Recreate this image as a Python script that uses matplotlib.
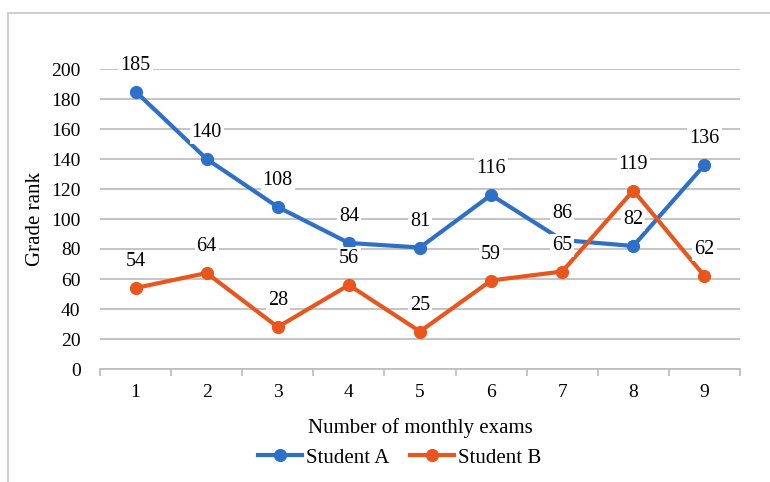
import matplotlib.pyplot as plt
from matplotlib.patches import Rectangle
import numpy as np

plt.rcParams['font.family'] = ['Liberation Serif', 'DejaVu Serif']

exams = ['1', '2', '3', '4', '5', '6', '7', '8', '9']
student_a = [185, 140, 108, 84, 81, 116, 86, 82, 136]
student_b = [54, 64, 28, 56, 25, 59, 65, 119, 62]
y_ticks = [0, 20, 40, 60, 80, 100, 120, 140, 160, 180, 200]

blue = '#2E6FC7'
orange = '#E8561E'
grid_col = '#BFBFBF'

fig = plt.figure(figsize=(7.7, 4.82), dpi=100)
ax = fig.add_axes([100/770, 1-369/482, 640/770, 300/482])

# outer frame of the chart area
fig.patches.append(Rectangle((8/770, -0.1), 1.1, 1-13/482+0.1, transform=fig.transFigure,
                             fill=False, edgecolor='#D0D0D0', lw=1.5))

x = np.arange(len(exams))
ax.plot(x, student_a, color=blue, lw=3, marker='o', ms=8.5, label='Student A', zorder=3)
ax.plot(x, student_b, color=orange, lw=3, marker='o', ms=8.5, label='Student B', zorder=3)

for series in (student_a, student_b):
    for xi, v in zip(x, series):
        ax.annotate(str(v), (xi, v), xytext=(0, 19), textcoords='offset points',
                    ha='center', va='center', fontsize=14.5, zorder=5,
                    bbox=dict(boxstyle='square,pad=0.1', fc='white', ec='none'))

ax.set_xlim(-0.5, len(exams) - 0.5)
ax.set_ylim(0, 200)
ax.set_yticks(y_ticks)
ax.tick_params(axis='y', length=0, labelsize=14, pad=14)
ax.set_xticks(x)
ax.set_xticklabels(exams)
ax.set_xticks(np.arange(len(exams) + 1) - 0.5, minor=True)
ax.tick_params(axis='x', which='major', length=0, labelsize=14, pad=11)
ax.tick_params(axis='x', which='minor', length=5, color=grid_col, width=1.3)

ax.grid(axis='y', color=grid_col, lw=1.3)
ax.set_axisbelow(True)
for s in ('top', 'right', 'left'):
    ax.spines[s].set_visible(False)
ax.spines['bottom'].set_color(grid_col)
ax.spines['bottom'].set_linewidth(1.3)

ax.set_xlabel('Number of monthly exams', fontsize=15, labelpad=12)
ax.set_ylabel('Grade rank', fontsize=15, labelpad=4)

fig.legend(loc='center', bbox_to_anchor=(400/770, 1-458/482), ncol=2, frameon=False,
           fontsize=15, handlelength=2.1, handletextpad=0.2, columnspacing=1.0)

fig.savefig('out.png', dpi=100)
